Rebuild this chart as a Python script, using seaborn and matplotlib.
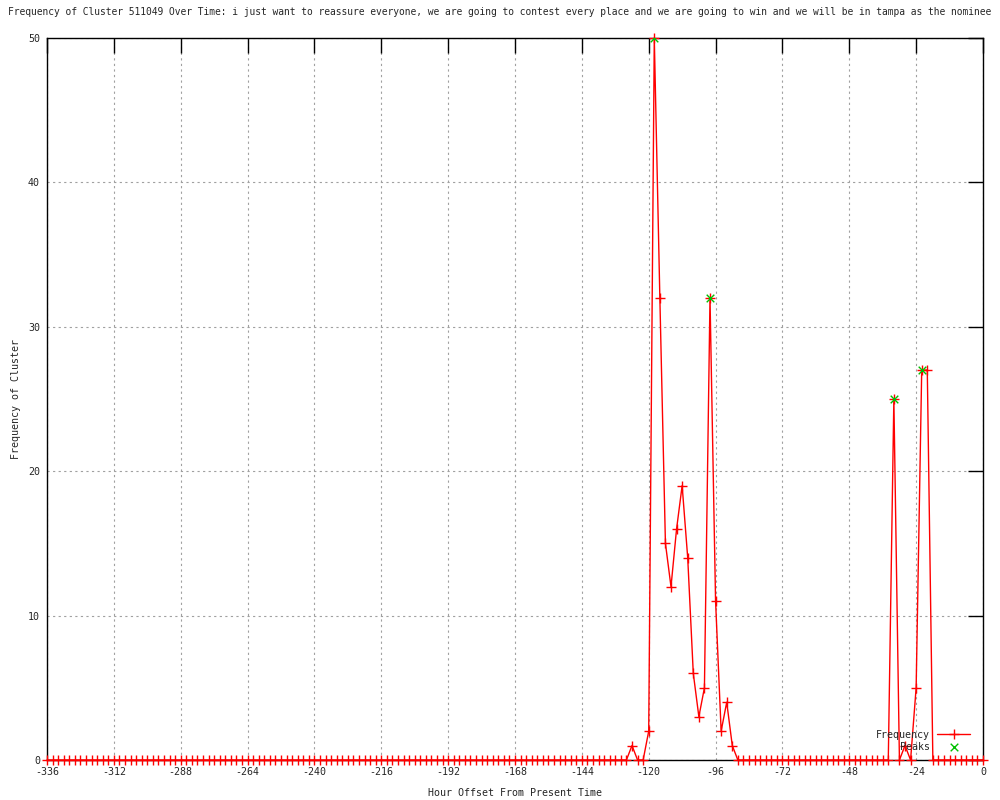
import numpy as np
import seaborn as sns
import matplotlib.pyplot as plt

# hour offsets, one point every two hours
hours = np.arange(-336, 1, 2)

# cluster frequency, -336 .. 0
frequency = [
    0, 0, 0, 0, 0, 0, 0, 0, 0, 0, 0, 0, 0, 0, 0, 0, 0, 0, 0, 0,   # -336 .. -298
    0, 0, 0, 0, 0, 0, 0, 0, 0, 0, 0, 0, 0, 0, 0, 0, 0, 0, 0, 0,   # -296 .. -258
    0, 0, 0, 0, 0, 0, 0, 0, 0, 0, 0, 0, 0, 0, 0, 0, 0, 0, 0, 0,   # -256 .. -218
    0, 0, 0, 0, 0, 0, 0, 0, 0, 0, 0, 0, 0, 0, 0, 0, 0, 0, 0, 0,   # -216 .. -178
    0, 0, 0, 0, 0, 0, 0, 0, 0, 0, 0, 0, 0, 0, 0, 0, 0, 0, 0, 0,   # -176 .. -138
    0, 0, 0, 0, 0,                                               # -136 .. -128
    1, 0, 0, 2, 50, 32, 15, 12, 16, 19, 14, 6, 3, 5, 32, 11, 2, 4, 1,   # -126 .. -90
    0, 0, 0, 0, 0, 0, 0, 0, 0, 0, 0, 0, 0, 0,                    # -88 .. -62
    0, 0, 0, 0, 0, 0, 0, 0, 0, 0, 0, 0, 0, 0,                    # -60 .. -34
    25, 0, 1, 0, 5, 27, 27,                                      # -32 .. -20
    0, 0, 0, 0, 0, 0, 0, 0, 0, 0,                                # -18 .. 0
]

peak_hours = [-118, -98, -32, -22]
peak_values = [50, 32, 25, 27]

x_ticks = list(range(-336, 1, 24))
y_ticks = [0, 10, 20, 30, 40, 50]

title = ("Frequency of Cluster 511049 Over Time: i just want to reassure everyone, "
         "we are going to contest every place and we are going to win and we will "
         "be in tampa as the nominee")

sns.set_style("white")
plt.rcParams['font.family'] = ['DejaVu Sans Mono', 'DejaVu Sans']
plt.rcParams['font.size'] = 7.2
plt.rcParams['axes.unicode_minus'] = False

fig = plt.figure(figsize=(10, 8), dpi=100)
ax = fig.add_axes([0.047, 0.05, 0.936, 0.9025])

sns.lineplot(x=hours, y=frequency, ax=ax, color='#ff0000', linewidth=1,
             marker='+', markersize=7, markeredgewidth=1,
             markeredgecolor='#ff0000', label='Frequency',
             clip_on=False, zorder=3)
sns.scatterplot(x=peak_hours, y=peak_values, ax=ax, marker='x', color='#00c000',
                s=30, linewidth=1, label='Peaks', zorder=4)

ax.set_xlim(-336, 0)
ax.set_ylim(0, 50)
ax.set_xticks(x_ticks)
ax.set_yticks(y_ticks)
ax.grid(True, color='#a0a0a0', linestyle=(0, (2, 3)), linewidth=0.8)
ax.tick_params(direction='in', length=11, width=1, color='black',
               top=True, right=True, labelsize=7.2, pad=5)
for sp in ax.spines.values():
    sp.set_color('black')
    sp.set_linewidth(1)

ax.set_xlabel('Hour Offset From Present Time', fontsize=7.2, labelpad=8)
ax.set_ylabel('Frequency of Cluster', fontsize=7.2, labelpad=5)

# long title: shrunk a little so the whole string fits across the canvas
fig.text(0.5, 0.985, title, ha='center', va='center', fontsize=6.95)

ax.legend(loc='lower right', bbox_to_anchor=(0.9904, 0.0055), frameon=False,
          markerfirst=False, fontsize=7.2, handlelength=3.3, handletextpad=0.7,
          labelspacing=0.25, borderaxespad=0)

fig.savefig('out.png', dpi=100)
